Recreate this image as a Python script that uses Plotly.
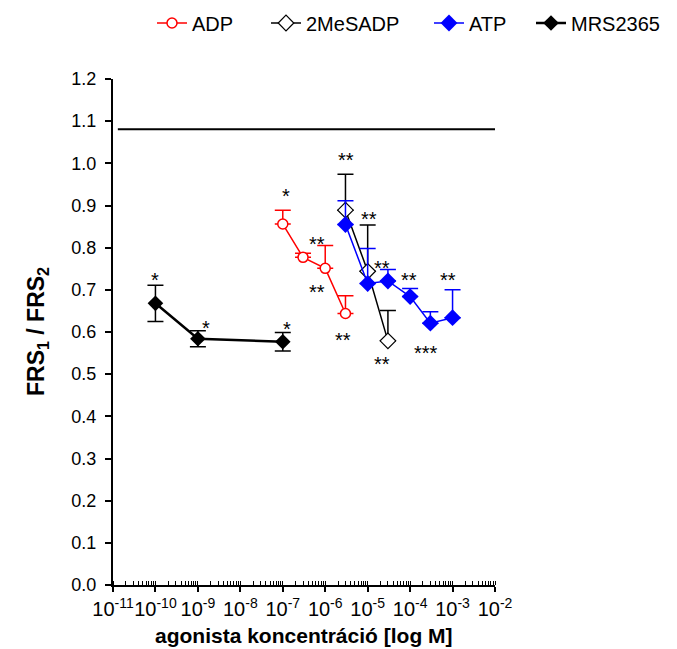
import plotly.graph_objects as go

# ---------------- data ----------------
mrs_x = [1e-10, 1e-9, 1e-7]
mrs_y = [0.668, 0.584, 0.577]
mrs_err = [0.043, 0.019, 0.022]

adp_x = [1e-7, 3e-7, 1e-6, 3e-6]
adp_y = [0.856, 0.777, 0.751, 0.644]
adp_err = [0.033, 0.010, 0.054, 0.042]

mes_x = [3e-6, 1e-5, 3e-5]
mes_y = [0.889, 0.744, 0.579]
mes_err = [0.085, 0.110, 0.072]

atp_x = [3e-6, 1e-5, 3e-5, 1e-4, 3e-4, 1e-3]
atp_y = [0.855, 0.715, 0.721, 0.684, 0.621, 0.634]
atp_err = [0.056, 0.083, 0.027, 0.019, 0.027, 0.066]

baseline_x = [1.3e-11, 1e-2]
baseline_y = [1.081, 1.081]

# significance labels (log10 x, y, text)
star_x = [-10.0, -8.81, -6.9,
          -6.92, -6.19, -6.19, -5.58,
          -5.52, -4.96, -4.66,
          -4.66, -4.02, -3.62, -3.1]
star_y = [0.737, 0.624, 0.622,
          0.937, 0.823, 0.709, 0.595,
          1.022, 0.882, 0.538,
          0.766, 0.737, 0.564, 0.737]
star_t = ["*", "*", "*",
          "*", "**", "**", "**",
          "**", "**", "**",
          "**", "**", "***", "**"]

tick_vals = [10.0 ** e for e in range(-11, -1)]
tick_text = ["10<sup>%d</sup>" % e for e in range(-11, -1)]
y_ticks = [i / 10 for i in range(0, 13)]

x_title = "<b>agonista koncentráció [log M]</b>"
y_title = "<b>FRS<sub>1</sub> / FRS<sub>2</sub></b>"

FONT = "Liberation Sans, Arial, sans-serif"
W, H = 669, 641  # page body adds an 8 px offset

fig = go.Figure()

fig.add_trace(go.Scatter(x=baseline_x, y=baseline_y, mode="lines",
                         line=dict(color="black", width=2), showlegend=False,
                         hoverinfo="skip"))

fig.add_trace(go.Scatter(
    x=adp_x, y=adp_y, name="ADP", mode="lines+markers", legend="legend",
    line=dict(color="#ff0000", width=1.5),
    marker=dict(symbol="circle", size=10, color="white",
                line=dict(color="#ff0000", width=1.5)),
    error_y=dict(type="data", symmetric=False, array=adp_err,
                 arrayminus=[0] * len(adp_err), color="#ff0000",
                 thickness=1.5, width=8)))

fig.add_trace(go.Scatter(
    x=mes_x, y=mes_y, name="2MeSADP", mode="lines+markers", legend="legend2",
    line=dict(color="black", width=1.5),
    marker=dict(symbol="diamond", size=12, color="white",
                line=dict(color="black", width=1.2)),
    error_y=dict(type="data", symmetric=False, array=mes_err,
                 arrayminus=[0] * len(mes_err), color="black",
                 thickness=1.5, width=8)))

fig.add_trace(go.Scatter(
    x=atp_x, y=atp_y, name="ATP", mode="lines+markers", legend="legend3",
    line=dict(color="#0000ff", width=1.5),
    marker=dict(symbol="diamond", size=13, color="#0000ff"),
    error_y=dict(type="data", symmetric=False, array=atp_err,
                 arrayminus=[0] * len(atp_err), color="#0000ff",
                 thickness=1.5, width=8)))

fig.add_trace(go.Scatter(
    x=mrs_x, y=mrs_y, name="MRS2365", mode="lines+markers", legend="legend4",
    line=dict(color="black", width=2.5),
    marker=dict(symbol="diamond", size=12, color="black"),
    error_y=dict(type="data", array=mrs_err, color="black",
                 thickness=1.5, width=8)))

for sx, sy, st in zip(star_x, star_y, star_t):
    fig.add_annotation(x=sx, y=sy, text=st, showarrow=False,
                       xanchor="center", yanchor="middle", yshift=-6,
                       font=dict(size=20, color="black", family=FONT))

# axis titles
fig.add_annotation(x=0.5, y=0, xref="paper", yref="paper", yshift=-50,
                   text=x_title, showarrow=False, xanchor="center",
                   yanchor="middle", font=dict(size=21, family=FONT))
fig.add_annotation(x=0, y=0.5, xref="paper", yref="paper", xshift=-76,
                   text=y_title, showarrow=False, textangle=-90,
                   xanchor="center", yanchor="middle",
                   font=dict(size=23, family=FONT))


def leg(px):
    return dict(orientation="h", xref="container", yref="container",
                x=(px - 14) / W, y=1 - 15 / H, xanchor="left",
                yanchor="middle", font=dict(size=20, family=FONT),
                bgcolor="rgba(0,0,0,0)", borderwidth=0)


fig.update_layout(
    width=W, height=H,
    margin=dict(l=105, r=182, t=71, b=64, autoexpand=False),
    plot_bgcolor="white", paper_bgcolor="white",
    font=dict(family=FONT, color="black", size=18),
    legend=leg(158),
    legend2=leg(272),
    legend3=leg(435),
    legend4=leg(537),
    xaxis=dict(type="log", range=[-11, -2], tickmode="array",
               tickvals=tick_vals, ticktext=tick_text, automargin=False,
               tickangle=0,
               showline=True, linecolor="black", linewidth=2,
               ticks="outside", ticklen=5, tickwidth=2, tickcolor="black",
               showgrid=False, zeroline=False,
               minor=dict(ticks="inside", ticklen=4, tickwidth=1,
                          tickcolor="black", dtick="D1", showgrid=False),
               tickfont=dict(size=20)),
    yaxis=dict(range=[0, 1.2], tickmode="array", tickvals=y_ticks,
               tickformat=".1f", automargin=False, ticklabelstandoff=5,
               showline=True, linecolor="black", linewidth=2,
               ticks="outside", ticklen=6, tickwidth=2, tickcolor="black",
               showgrid=False, zeroline=False, tickfont=dict(size=18)),
)

fig.write_html("out.html")
